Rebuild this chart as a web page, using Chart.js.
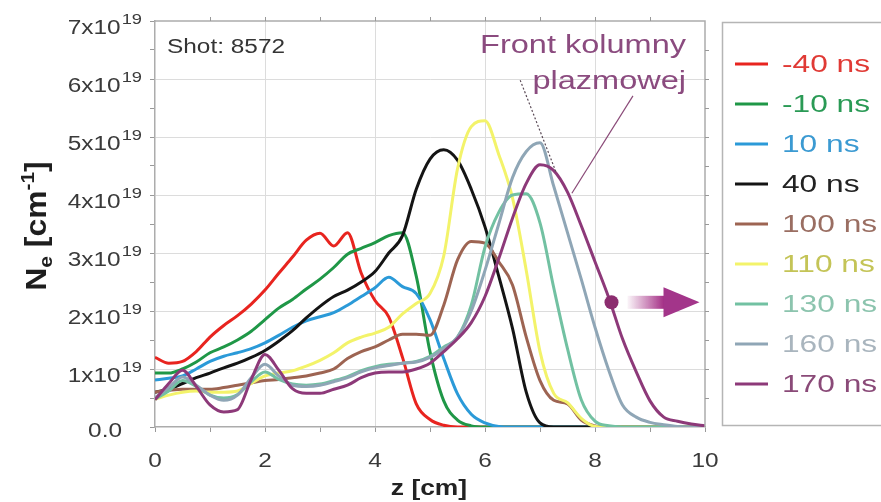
<!DOCTYPE html>
<html>
<head>
<meta charset="utf-8">
<script src="https://cdn.jsdelivr.net/npm/chart.js@4.4.1/dist/chart.umd.min.js"></script>
<style>
  html, body { margin: 0; padding: 0; background: #fff; }
  #wrap { width: 881px; height: 502px; }
</style>
</head>
<body>
<div id="wrap"><canvas id="neChart" width="881" height="502"></canvas></div>
<script>
// z positions along the column [cm]
const zValues = [0, 0.25, 0.5, 0.75, 1, 1.25, 1.5, 1.75, 2, 2.25, 2.5, 2.75, 3, 3.25, 3.5, 3.75,
  4, 4.25, 4.5, 4.75, 5, 5.25, 5.5, 5.75, 6, 6.25, 6.5, 6.75, 7, 7.25, 7.5, 7.75,
  8, 8.25, 8.5, 8.75, 9, 9.25, 9.5, 9.75, 10];

// Ne in units of 1e19 cm^-1, one array per time
const neMinus40 = [1.2, 1.1, 1.13, 1.3, 1.55, 1.75, 1.92, 2.12, 2.36, 2.65, 2.93, 3.22, 3.34, 3.12, 3.35, 2.65,
  2.18, 1.9, 1.2, 0.4, 0.13, 0.03, 0, 0, 0, 0, 0, 0, 0, 0, 0, 0, 0, 0, 0, 0, 0, 0, 0, 0, 0];
const neMinus10 = [0.93, 0.93, 1.0, 1.12, 1.28, 1.38, 1.5, 1.65, 1.85, 2.05, 2.2, 2.38, 2.55, 2.75, 2.98, 3.08,
  3.18, 3.3, 3.35, 2.6, 1.3, 0.45, 0.12, 0.02, 0, 0, 0, 0, 0, 0, 0, 0, 0, 0, 0, 0, 0, 0, 0, 0, 0];
const ne10 = [0.81, 0.84, 0.88, 1.0, 1.13, 1.22, 1.28, 1.35, 1.45, 1.58, 1.72, 1.83, 1.9, 1.97, 2.1, 2.25,
  2.4, 2.58, 2.42, 2.3, 1.85, 1.18, 0.57, 0.22, 0.07, 0.01, 0, 0, 0, 0, 0, 0, 0, 0, 0, 0, 0, 0, 0, 0, 0];
const ne40 = [0.6, 0.65, 0.75, 0.85, 0.93, 1.02, 1.1, 1.2, 1.32, 1.48, 1.66, 1.88, 2.08, 2.25, 2.36, 2.5,
  2.68, 3.0, 3.3, 4.1, 4.62, 4.78, 4.6, 4.1, 3.45, 2.6, 1.7, 0.6, 0.07, 0, 0, 0, 0, 0, 0, 0, 0, 0, 0, 0, 0];
const ne100 = [0.6, 0.63, 0.65, 0.65, 0.65, 0.68, 0.72, 0.76, 0.8, 0.82, 0.85, 0.88, 0.93, 1.0, 1.18, 1.3,
  1.38, 1.5, 1.6, 1.6, 1.58, 2.1, 2.88, 3.2, 3.17, 2.85, 2.45, 1.55, 0.8, 0.46, 0.4, 0.12, 0.02, 0, 0, 0, 0, 0, 0, 0, 0];
const ne110 = [0.48, 0.55, 0.6, 0.62, 0.6, 0.6, 0.62, 0.75, 0.88, 0.93, 0.97, 1.05, 1.15, 1.28, 1.45, 1.55,
  1.62, 1.72, 1.95, 2.13, 2.3, 2.95, 4.45, 5.18, 5.28, 4.7, 3.95, 2.7, 1.3, 0.58, 0.42, 0.15, 0.01, 0, 0, 0, 0, 0, 0, 0, 0];
const ne130 = [0.48, 0.62, 0.8, 0.7, 0.55, 0.5, 0.56, 0.78, 0.95, 0.82, 0.74, 0.72, 0.74, 0.8, 0.87, 0.97,
  1.04, 1.08, 1.1, 1.13, 1.22, 1.38, 1.55, 2.1, 3.1, 3.7, 4.0, 4.02, 3.52, 2.4, 1.35, 0.47, 0.1, 0.02, 0, 0, 0, 0, 0, 0, 0];
const ne160 = [0.5, 0.68, 0.86, 0.72, 0.55, 0.46, 0.55, 0.85, 1.08, 0.88, 0.72, 0.7, 0.72, 0.78, 0.85, 0.95,
  1.02, 1.06, 1.1, 1.12, 1.2, 1.35, 1.55, 2.0, 2.7, 3.5, 4.3, 4.75, 4.9, 4.15, 3.35, 2.55, 1.72, 0.98, 0.38, 0.17, 0.08, 0.04, 0.01, 0, 0];
const ne170 = [0.47, 0.75, 0.98, 0.7, 0.38, 0.26, 0.3, 0.82, 1.25, 0.98, 0.66, 0.58, 0.58, 0.65, 0.72, 0.85,
  0.93, 0.95, 0.95, 1.0, 1.1, 1.3, 1.52, 1.8, 2.25, 2.9, 3.6, 4.2, 4.52, 4.42, 4.05, 3.47, 2.85, 2.23, 1.52, 0.95, 0.45, 0.17, 0.1, 0.05, 0.02];

const seriesLabels = ['-40 ns', '-10 ns', '10 ns', '40 ns', '100 ns', '110 ns', '130 ns', '160 ns', '170 ns'];
const seriesValues = [neMinus40, neMinus10, ne10, ne40, ne100, ne110, ne130, ne160, ne170];
const lineColors = ['#e8241f', '#1f9747', '#2b9ad8', '#141414', '#9d6452', '#f3f36a', '#72c1a2', '#8fa6b6', '#8d3979'];
const textColors = ['#e03a35', '#2a9a55', '#3b9ad2', '#222222', '#9a6e62', '#c4c457', '#8cc4ae', '#a9b5be', '#8a4a78'];

// axis ticks
const xTickLabels = [0, 2, 4, 6, 8, 10];
const yTickLabels = [0, 1, 2, 3, 4, 5, 6, 7];

// annotation anchors, in data units (z, Ne)
const frontDot = [8.3, 2.15];
const dottedLeader = [[6.64, 5.98], [7.29, 4.4]];
const solidLeader = [[8.69, 5.71], [7.58, 4.03]];

const FONT = '"Liberation Sans", Arial, Helvetica, sans-serif';

function wideText(ctx, txt, x, y, font, color, align, sx) {
    ctx.save();
    ctx.font = font;
    ctx.fillStyle = color;
    ctx.textAlign = align;
    ctx.textBaseline = 'alphabetic';
    ctx.translate(x, y);
    ctx.scale(sx, 1);
    ctx.fillText(txt, 0, 0);
    ctx.restore();
}

function textWidth(ctx, txt, font, sx) {
    ctx.save();
    ctx.font = font;
    const w = ctx.measureText(txt).width * sx;
    ctx.restore();
    return w;
}

const decorPlugin = {
    id: 'decor',
    afterDatasetsDraw(chart) {
        const ctx = chart.ctx;
        const xs = chart.scales.x;
        const ys = chart.scales.y;
        const area = chart.chartArea;

        // frame: top and right edges with small ticks
        ctx.save();
        ctx.strokeStyle = '#acacac';
        ctx.lineWidth = 1.5;
        ctx.beginPath();
        ctx.moveTo(area.left, area.top);
        ctx.lineTo(area.right, area.top);
        ctx.lineTo(area.right, area.bottom);
        ctx.stroke();
        ctx.lineWidth = 1;
        ctx.strokeStyle = '#999';
        ctx.beginPath();
        for (let v = 1; v < 10; v++) {
            const px = Math.round(xs.getPixelForValue(v)) + 0.5;
            ctx.moveTo(px, area.top);
            ctx.lineTo(px, area.top - 4);
        }
        for (let v = 0.5; v < 7; v += 0.5) {
            const py = Math.round(ys.getPixelForValue(v)) + 0.5;
            ctx.moveTo(area.right, py);
            ctx.lineTo(area.right + 4, py);
        }
        ctx.stroke();
        ctx.restore();
    },
    afterDraw(chart) {
        const ctx = chart.ctx;
        const xs = chart.scales.x;
        const ys = chart.scales.y;
        const area = chart.chartArea;

        // y tick labels  "Nx10^19"
        const tickFont = '20px ' + FONT;
        const supFont = '15px ' + FONT;
        const sx = 1.22;
        yTickLabels.forEach(v => {
            const py = ys.getPixelForValue(v);
            if (v === 0) {
                wideText(ctx, '0.0', 122, py + 10, tickFont, '#3a3a3a', 'right', sx);
                return;
            }
            const supW = textWidth(ctx, '19', supFont, sx);
            wideText(ctx, '19', 142, py + 3, supFont, '#3a3a3a', 'right', sx);
            wideText(ctx, v + 'x10', 142 - supW - 1, py + 13, tickFont, '#3a3a3a', 'right', sx);
        });

        // x tick labels
        xTickLabels.forEach(v => {
            wideText(ctx, String(v), xs.getPixelForValue(v), 467, tickFont, '#3a3a3a', 'center', sx);
        });

        // x title
        wideText(ctx, 'z [cm]', (area.left + area.right) / 2 - 1, 495, 'bold 22px ' + FONT, '#222', 'center', 1.2);

        // y title: N_e [cm^-1], rotated
        ctx.save();
        const bigF = 'bold 29px ' + FONT;
        const smallF = 'bold 19px ' + FONT;
        const ysx = 1.1;
        const parts = [
            { t: 'N', f: bigF, dy: 0 },
            { t: 'e', f: smallF, dy: 6 },
            { t: ' [cm', f: bigF, dy: 0 },
            { t: '-1', f: smallF, dy: -12 },
            { t: ']', f: bigF, dy: 0 }
        ];
        let total = 0;
        parts.forEach(p => { p.w = textWidth(ctx, p.t, p.f, ysx); total += p.w; });
        ctx.translate(46, (area.top + area.bottom) / 2 + 2);
        ctx.rotate(-Math.PI / 2);
        let cx = -total / 2;
        parts.forEach(p => {
            wideText(ctx, p.t, cx, p.dy, p.f, '#1e1e1e', 'left', ysx);
            cx += p.w;
        });
        ctx.restore();

        // shot number
        wideText(ctx, 'Shot: 8572', area.left + 12, 53, '20px ' + FONT, '#353535', 'left', 1.22);

        // leader lines
        ctx.save();
        ctx.strokeStyle = '#5a4a56';
        ctx.lineWidth = 1.2;
        ctx.setLineDash([2, 2]);
        ctx.beginPath();
        ctx.moveTo(xs.getPixelForValue(dottedLeader[0][0]), ys.getPixelForValue(dottedLeader[0][1]));
        ctx.lineTo(xs.getPixelForValue(dottedLeader[1][0]), ys.getPixelForValue(dottedLeader[1][1]));
        ctx.stroke();
        ctx.setLineDash([]);
        ctx.strokeStyle = '#8a4a78';
        ctx.beginPath();
        ctx.moveTo(xs.getPixelForValue(solidLeader[0][0]), ys.getPixelForValue(solidLeader[0][1]));
        ctx.lineTo(xs.getPixelForValue(solidLeader[1][0]), ys.getPixelForValue(solidLeader[1][1]));
        ctx.stroke();
        ctx.restore();

        // annotation text
        const annF = '26px ' + FONT;
        wideText(ctx, 'Front kolumny', 686, 53, annF, '#8b4b7f', 'right', 1.25);
        wideText(ctx, 'plazmowej', 686, 89, annF, '#8b4b7f', 'right', 1.25);

        // front marker dot and arrow
        const dx = xs.getPixelForValue(frontDot[0]);
        const dy = ys.getPixelForValue(frontDot[1]);
        ctx.save();
        ctx.fillStyle = '#8c2d6f';
        ctx.beginPath();
        ctx.arc(dx, dy, 7, 0, Math.PI * 2);
        ctx.fill();
        const a0 = dx + 16, a1 = dx + 52, tip = dx + 88;
        const grad = ctx.createLinearGradient(a0, 0, a1, 0);
        grad.addColorStop(0, 'rgba(170, 60, 140, 0.05)');
        grad.addColorStop(1, 'rgba(165, 50, 135, 1)');
        ctx.fillStyle = grad;
        ctx.fillRect(a0, dy - 6.5, a1 - a0 + 1, 13);
        ctx.fillStyle = '#a3358a';
        ctx.beginPath();
        ctx.moveTo(a1, dy - 15);
        ctx.lineTo(tip, dy);
        ctx.lineTo(a1, dy + 15);
        ctx.closePath();
        ctx.fill();
        ctx.restore();

        // legend box
        ctx.save();
        ctx.strokeStyle = '#b5b5b5';
        ctx.lineWidth = 1.5;
        ctx.strokeRect(722.5, 22.5, 200, 403);
        const legF = '24px ' + FONT;
        seriesLabels.forEach((lab, i) => {
            const ly = 64 + 40 * i;
            ctx.strokeStyle = lineColors[i];
            ctx.lineWidth = 3;
            ctx.beginPath();
            ctx.moveTo(735, ly);
            ctx.lineTo(768, ly);
            ctx.stroke();
            wideText(ctx, lab, 782, ly + 8, legF, textColors[i], 'left', 1.32);
        });
        ctx.restore();
    }
};

const datasets = seriesValues.map((vals, i) => ({
    label: seriesLabels[i],
    data: zValues.map((z, k) => ({ x: z, y: vals[k] })),
    borderColor: lineColors[i],
    borderWidth: 3,
    pointRadius: 0,
    fill: false,
    cubicInterpolationMode: 'monotone',
    order: seriesValues.length - i
}));

new Chart(document.getElementById('neChart'), {
    type: 'line',
    data: { datasets: datasets },
    options: {
        responsive: false,
        animation: false,
        devicePixelRatio: 1,
        layout: { padding: { left: 0, right: 176, top: 21, bottom: 0 } },
        plugins: {
            legend: { display: false },
            tooltip: { enabled: false }
        },
        scales: {
            x: {
                type: 'linear',
                min: 0,
                max: 10,
                ticks: { stepSize: 1, display: false },
                grid: {
                    color: c => (c.tick && c.tick.value % 2 === 0 && c.tick.value > 0 && c.tick.value < 10) ? '#dcdcdc' : 'rgba(0,0,0,0)',
                    tickColor: '#999',
                    tickLength: 5,
                    drawTicks: true
                },
                border: { color: '#acacac', width: 1.5 },
                afterFit: s => { s.height = 75; }
            },
            y: {
                type: 'linear',
                min: 0,
                max: 7,
                ticks: { stepSize: 0.5, display: false },
                grid: {
                    color: c => (c.tick && Number.isInteger(c.tick.value) && c.tick.value > 0 && c.tick.value < 7) ? '#dcdcdc' : 'rgba(0,0,0,0)',
                    tickColor: '#999',
                    tickLength: 5,
                    drawTicks: true
                },
                border: { color: '#acacac', width: 1.5 },
                afterFit: s => { s.width = 155; }
            }
        }
    },
    plugins: [decorPlugin]
});
</script>
</body>
</html>
